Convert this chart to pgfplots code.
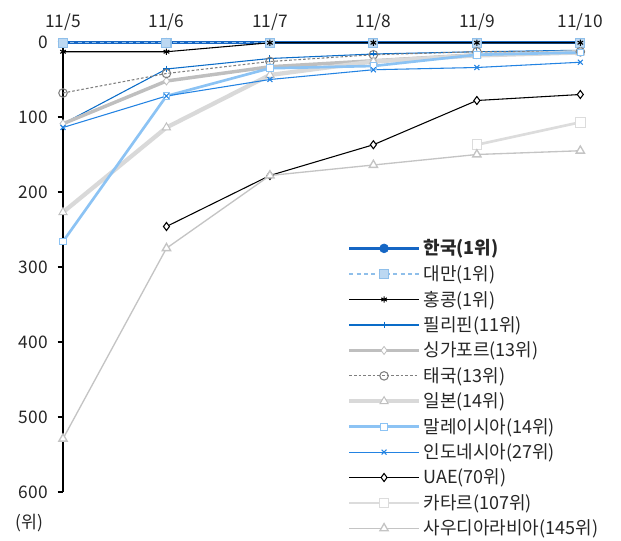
\documentclass[border=0pt]{standalone}
\usepackage{pgfplots}
\pgfplotsset{compat=1.18}
\usepackage{fontspec}
\setmainfont{Noto Sans CJK KR}

\definecolor{krblue}{HTML}{1566C4}
\definecolor{twblue}{HTML}{8FBFEA}
\definecolor{twfill}{HTML}{BCD8F2}
\definecolor{phblue}{HTML}{0A6CC8}
\definecolor{sggray}{HTML}{BFBFBF}
\definecolor{thgray}{HTML}{7F7F7F}
\definecolor{jpgray}{HTML}{D9D9D9}
\definecolor{myblue}{HTML}{8CC3F4}
\definecolor{idblue}{HTML}{2383E2}
\definecolor{qagray}{HTML}{DCDCDC}
\definecolor{sagray}{HTML}{C4C4C4}
\definecolor{txt}{HTML}{262626}

\begin{document}
\begin{tikzpicture}
% 621 x 541 px page, axis box placed as in the reference
\path[use as bounding box] (-47.25pt,-36.75pt) rectangle ++(465.75pt,405.75pt);
\begin{axis}[
    at={(0pt,0pt)}, anchor=south west,
    scale only axis,
    width=388pt, height=337.5pt,
    xmin=0, xmax=5,
    ymin=0, ymax=600,
    y dir=reverse,
    axis x line*=top,
    axis y line*=left,
    x axis line style={draw=none},
    xtick={0,1,2,3,4,5},
    xticklabels={11/5,11/6,11/7,11/8,11/9,11/10},
    xtick style={draw=none},
    xticklabel style={yshift=1pt},
    ytick={0,100,200,300,400,500,600},
    tick align=outside,
    major tick length=4pt,
    ytick style={black, line width=0.8pt},
    y axis line style={line width=0.8pt},
    tick label style={font=\fontsize{13}{15}\selectfont, text=txt},
    yticklabel style={xshift=-4pt},
    /pgf/number format/assume math mode=true,
    clip=false,
    legend cell align=left,
    legend style={draw=none, fill=none, at={(rel axis cs:0.549,0.567)}, anchor=north west,
        font=\fontsize{13.5}{15}\selectfont, text=txt, row sep=2.4pt, inner sep=0pt,
        /tikz/every even column/.append style={column sep=5pt}},
    legend image code/.code={
        \draw[#1, mark repeat=2, mark phase=2] plot coordinates {(0pt,0pt) (26pt,0pt) (52pt,0pt)};
    },
]
% Korea
\addplot[krblue, line width=2.6pt, mark=*, mark size=3.3pt, mark options={fill=krblue, line width=0.5pt}]
    coordinates {(0,1)(1,1)(2,1)(3,1)(4,1)(5,1)};
\addlegendentry{\textbf{한국(1위)}}
% Taiwan
\addplot[twblue, line width=0.8pt, dash pattern=on 3pt off 2.5pt, mark=square*, mark size=3.4pt, mark options={solid, fill=twfill, draw=twblue}]
    coordinates {(0,1)(1,1)(2,1)(3,1)(4,1)(5,1)};
\addlegendentry{대만(1위)}
% Hong Kong
\addplot[black, line width=0.8pt, mark=asterisk, mark size=2.4pt, mark options={line width=0.8pt}]
    coordinates {(0,13)(1,13)(2,1)(3,1)(4,1)(5,1)};
\addlegendentry{홍콩(1위)}
% Philippines
\addplot[phblue, line width=0.8pt, mark=+, mark size=2.6pt]
    coordinates {(0,109)(1,36)(2,22)(3,16)(4,13)(5,11)};
\addlegendentry{필리핀(11위)}
% Singapore
\addplot[sggray, line width=2.6pt, mark=diamond*, mark size=3pt, mark options={fill=white, line width=0.6pt}]
    coordinates {(0,109)(1,52)(2,33)(3,25)(4,17)(5,13)};
\addlegendentry{싱가포르(13위)}
% Thailand
\addplot[thgray, line width=0.8pt, dash pattern=on 2pt off 1.5pt, mark=o, mark size=3.2pt, mark options={solid, fill=white}]
    coordinates {(0,68)(1,42)(2,26)(3,17)(4,13)(5,13)};
\addlegendentry{태국(13위)}
% Japan
\addplot[jpgray, line width=3.2pt, mark=triangle*, mark size=3.5pt, mark options={fill=white, draw=sggray, line width=0.7pt}]
    coordinates {(0,227)(1,114)(2,44)(3,26)(4,18)(5,14)};
\addlegendentry{일본(14위)}
% Malaysia
\addplot[myblue, line width=2pt, mark=square*, mark size=2.5pt, mark options={fill=white, line width=0.7pt}]
    coordinates {(0,266)(1,72)(2,35)(3,32)(4,17)(5,14)};
\addlegendentry{말레이시아(14위)}
% Indonesia
\addplot[idblue, line width=0.8pt, mark=x, mark size=2.6pt, mark options={line width=0.8pt}]
    coordinates {(0,114)(1,72)(2,50)(3,37)(4,34)(5,27)};
\addlegendentry{인도네시아(27위)}
% UAE
\addplot[black, line width=0.8pt, mark=diamond*, mark size=3pt, mark options={fill=white}]
    coordinates {(1,246)(2,178)(3,137)(4,78)(5,70)};
\addlegendentry{UAE(70위)}
% Qatar
\addplot[qagray, line width=2pt, mark=square*, mark size=3.6pt, mark options={fill=white, line width=0.8pt}]
    coordinates {(4,137)(5,107)};
\addlegendentry{카타르(107위)}
% Saudi Arabia
\addplot[sagray, line width=1pt, mark=triangle*, mark size=3.6pt, mark options={fill=white, line width=1pt}]
    coordinates {(0,529)(1,275)(2,178)(3,164)(4,150)(5,145)};
\addlegendentry{사우디아라비아(145위)}
\node[font=\fontsize{13}{15}\selectfont, text=txt, anchor=center] at (rel axis cs:0,0) [xshift=-25pt, yshift=-23pt] {(위)};
\end{axis}
\end{tikzpicture}
\end{document}
